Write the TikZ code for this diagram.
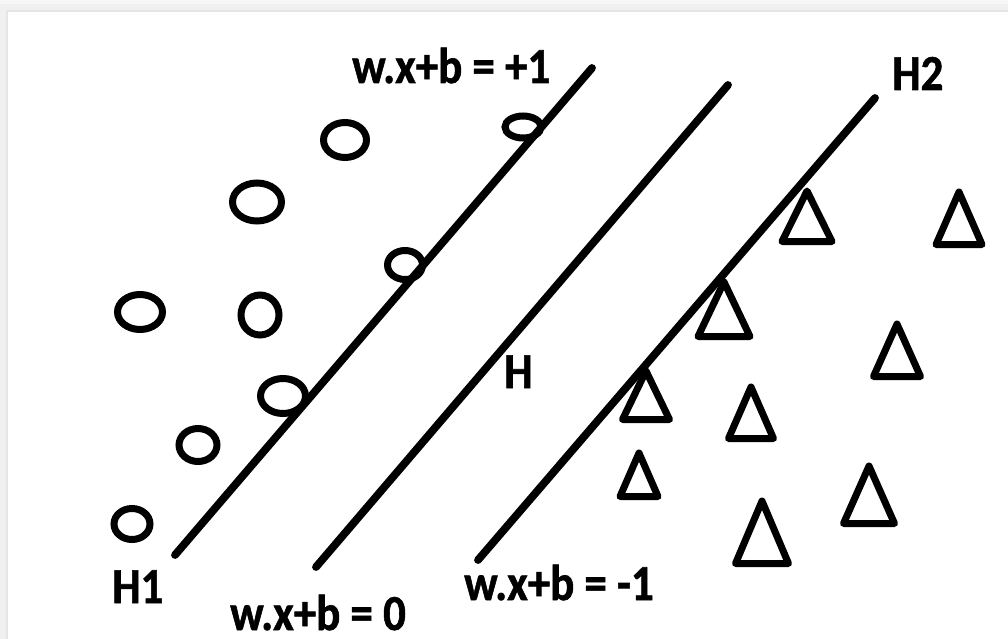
\documentclass[tikz,border=0pt]{standalone}
\usepackage{fontspec}
\setmainfont{Carlito}[BoldFeatures={FakeBold=1.2}]
\begin{document}
\begin{tikzpicture}[x=1pt,y=-1pt,
  sepline/.style={line width=7.8pt,line cap=round,black},
  pt/.style={line width=7pt,black},
  tri/.style={line width=7pt,black,line join=round},
  lbl/.style={inner sep=0pt,text depth=0pt,font=\fontsize{45}{45}\selectfont\bfseries}]
\useasboundingbox (0,0) rectangle (1008,639);
% frame
\fill[black!6] (0,0) rectangle (1008,639);
\fill[black!3] (0,0) rectangle (1008,4);
\fill[black!10] (8,10) rectangle (1008,12);
\fill[black!10] (6,10) rectangle (8,639);
\fill[white] (8,12) rectangle (1008,639);
% separating lines
\coordinate (h1a) at (175,555); \coordinate (h1b) at (592,68);
\coordinate (ha) at (316,567);  \coordinate (hb) at (728,85);
\coordinate (h2a) at (478,560); \coordinate (h2b) at (875,98);
\draw[sepline] (h1a) -- (h1b);
\draw[sepline] (ha) -- (hb);
\draw[sepline] (h2a) -- (h2b);
% circles
\draw[pt] (345,140) ellipse [x radius=21.5,y radius=17.5];
\draw[pt] (257,202) ellipse [x radius=24.5,y radius=19];
\draw[pt] (405,265) ellipse [x radius=17.5,y radius=14.5];
\draw[pt] (140,312) ellipse [x radius=22.5,y radius=17.5];
\draw[pt] (260,315) ellipse [x radius=19,y radius=20];
\draw[pt] (283,396) ellipse [x radius=22.5,y radius=17.5];
\draw[pt] (198,445) ellipse [x radius=19,y radius=16.5];
\draw[pt] (132,524) ellipse [x radius=18,y radius=15.5];
\draw[pt] (523,127) ellipse [x radius=18,y radius=11];
% triangles
\foreach \ax/\ay/\by/\hw in {807/191/241.5/25, 959/192/244.5/23, 724/282/336.5/26,
  897/324/376.5/23.5, 646/371/419.5/23.5, 751/387/438.5/22.5, 639/453/496.5/19,
  869/466/523.5/25.5, 762/501/563.5/26.5}
  \draw[tri] (\ax,\ay) -- (\ax+\hw,\by) -- (\ax-\hw,\by) -- cycle;
% labels
\node[lbl,anchor=base west] (lp1) at (352,83) {\scalebox{1}[1.12]{w.x+b = +1}};
\node[lbl,anchor=base west] (lh2) at (892,90) {\scalebox{1}[1.12]{H2}};
\node[lbl,anchor=base west] (lh) at (504,388) {\scalebox{1}[1.12]{H}};
\node[lbl,anchor=base west] (lh1) at (112,603) {\scalebox{1}[1.12]{H1}};
\node[lbl,anchor=base west] (l0) at (230,630) {\scalebox{1}[1.12]{w.x+b = 0}};
\node[lbl,anchor=base west] (lm1) at (464,600) {\scalebox{1}[1.12]{w.x+b = -1}};
\end{tikzpicture}
\end{document}
